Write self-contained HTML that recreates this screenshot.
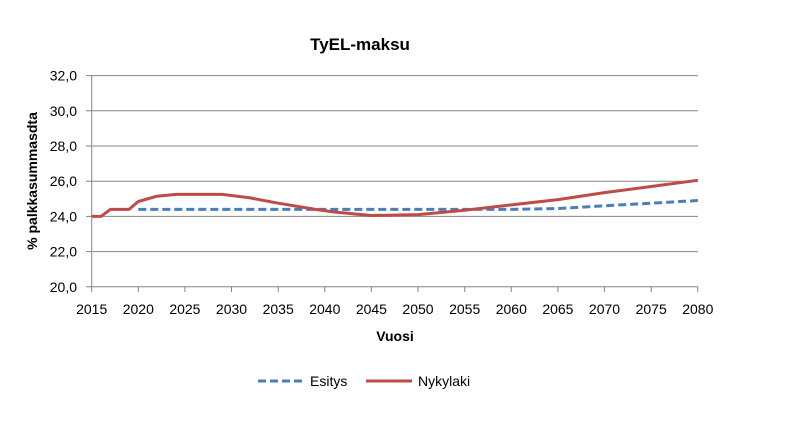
<!DOCTYPE html>
<html><head><meta charset="utf-8"><style>
body{margin:0;background:#fff;}
svg{display:block;font-family:"Liberation Sans",Arial,sans-serif;}
</style></head><body>
<svg width="787" height="424" viewBox="0 0 787 424" xmlns="http://www.w3.org/2000/svg">
<rect width="787" height="424" fill="#fff"/>
<text x="360" y="50" font-size="17" font-weight="bold" text-anchor="middle" fill="#000">TyEL-maksu</text>
<g stroke="#868686" stroke-width="1">
<line x1="92" y1="75.6" x2="698" y2="75.6"/>
<line x1="92" y1="110.8" x2="698" y2="110.8"/>
<line x1="92" y1="146" x2="698" y2="146"/>
<line x1="92" y1="181.2" x2="698" y2="181.2"/>
<line x1="92" y1="216.4" x2="698" y2="216.4"/>
<line x1="92" y1="251.6" x2="698" y2="251.6"/>
<line x1="86" y1="286.8" x2="698" y2="286.8"/>
<line x1="91.7" y1="75.6" x2="91.7" y2="292"/>
<line x1="86" y1="75.6" x2="92" y2="75.6"/><line x1="86" y1="110.8" x2="92" y2="110.8"/><line x1="86" y1="146" x2="92" y2="146"/><line x1="86" y1="181.2" x2="92" y2="181.2"/><line x1="86" y1="216.4" x2="92" y2="216.4"/><line x1="86" y1="251.6" x2="92" y2="251.6"/>
<line x1="138.3" y1="287" x2="138.3" y2="292"/><line x1="184.9" y1="287" x2="184.9" y2="292"/><line x1="231.5" y1="287" x2="231.5" y2="292"/><line x1="278.2" y1="287" x2="278.2" y2="292"/><line x1="324.8" y1="287" x2="324.8" y2="292"/><line x1="371.4" y1="287" x2="371.4" y2="292"/><line x1="418" y1="287" x2="418" y2="292"/><line x1="464.7" y1="287" x2="464.7" y2="292"/><line x1="511.3" y1="287" x2="511.3" y2="292"/><line x1="557.9" y1="287" x2="557.9" y2="292"/><line x1="604.5" y1="287" x2="604.5" y2="292"/><line x1="651.2" y1="287" x2="651.2" y2="292"/><line x1="697.8" y1="287" x2="697.8" y2="292"/>
</g>
<g font-size="14" fill="#000" text-anchor="end">
<text x="77" y="80.6">32,0</text><text x="77" y="115.8">30,0</text><text x="77" y="151">28,0</text><text x="77" y="186.2">26,0</text><text x="77" y="221.4">24,0</text><text x="77" y="256.6">22,0</text><text x="77" y="291.8">20,0</text>
</g>
<g font-size="14" fill="#000" text-anchor="middle">
<text x="91.7" y="314">2015</text><text x="138.3" y="314">2020</text><text x="184.9" y="314">2025</text><text x="231.5" y="314">2030</text><text x="278.2" y="314">2035</text><text x="324.8" y="314">2040</text><text x="371.4" y="314">2045</text><text x="418" y="314">2050</text><text x="464.7" y="314">2055</text><text x="511.3" y="314">2060</text><text x="557.9" y="314">2065</text><text x="604.5" y="314">2070</text><text x="651.2" y="314">2075</text><text x="697.8" y="314">2080</text>
</g>
<text x="395" y="341" font-size="14" font-weight="bold" text-anchor="middle">Vuosi</text>
<text transform="translate(37,181) rotate(-90)" font-size="14" font-weight="bold" text-anchor="middle">% palkkasummasdta</text>
<polyline fill="none" stroke="#4a7ebb" stroke-width="3" stroke-dasharray="8,4" points="138.3,209.4 511.3,209.4 557.9,208.5 604.5,205.8 651.2,203.2 697.8,200.5"/>
<polyline fill="none" stroke="#be4b48" stroke-width="3" stroke-linejoin="round" points="91.7,216.4 101,216.4 110.4,209.4 129,209.4 138.3,201.5 157,196.2 175.6,194.4 222.2,194.4 250.2,197.9 278.2,203.2 315.5,209.4 334.1,212 371.4,215.5 418,214.6 464.7,210.2 511.3,204.9 557.9,199.6 604.5,192.6 651.2,186.5 697.8,180.3"/>
<line x1="258" y1="381" x2="304" y2="381" stroke="#4a7ebb" stroke-width="3" stroke-dasharray="8,4"/>
<text x="310" y="386" font-size="14">Esitys</text>
<line x1="366" y1="381" x2="412" y2="381" stroke="#be4b48" stroke-width="3"/>
<text x="418" y="386" font-size="14">Nykylaki</text>
</svg>
</body></html>
